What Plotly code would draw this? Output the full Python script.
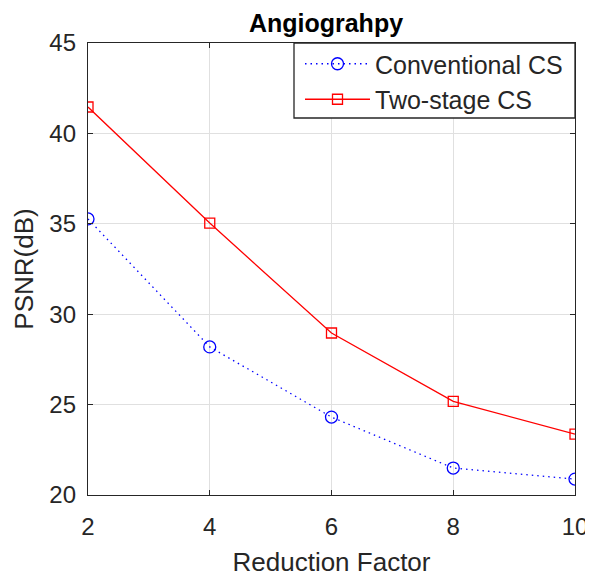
import plotly.graph_objects as go

reduction = [2, 4, 6, 8, 10]
conventional = [35.27, 28.19, 24.31, 21.49, 20.88]
two_stage = [41.46, 35.04, 28.96, 25.18, 23.37]
x_ticks = [2, 4, 6, 8, 10]
y_ticks = [20, 25, 30, 35, 40, 45]

FONT = "Liberation Sans, Arial, Helvetica, sans-serif"

# page body has an 8px default margin; figure sized/offset to compensate
W, H = 585, 569
L, T, PW, PH = 80, 35, 487, 452

fig = go.Figure()
fig.add_trace(go.Scatter(
    x=reduction, y=conventional, name="Conventional CS", mode="lines+markers",
    line=dict(color="#0000ff", width=1.3, dash="1.5px,4px"),
    marker=dict(symbol="circle-open", size=12, color="#0000ff", line=dict(width=1.3)),
))
fig.add_trace(go.Scatter(
    x=reduction, y=two_stage, name="Two-stage CS", mode="lines+markers",
    line=dict(color="#ff0000", width=1.3),
    marker=dict(symbol="square-open", size=10, color="#ff0000", line=dict(width=1.3)),
))

axis_common = dict(
    showgrid=True, gridcolor="#e0e0e0", gridwidth=1,
    showline=True, linecolor="#262626", linewidth=1.3, mirror="allticks",
    ticks="inside", ticklen=5, tickcolor="#262626",
    tickfont=dict(size=24, color="#262626", family=FONT),
    zeroline=False, automargin=False, ticklabeloverflow="allow",
)

fig.update_xaxes(range=[2, 10], tickvals=x_ticks, ticklabelstandoff=10,
                 title=dict(text="Reduction Factor", font=dict(size=26, color="#262626", family=FONT), standoff=20),
                 **axis_common)
fig.update_yaxes(range=[20, 45], tickvals=y_ticks, ticklabelstandoff=6,
                 title=dict(text="PSNR(dB)", font=dict(size=26, color="#262626", family=FONT), standoff=8),
                 **axis_common)

# legend frame (white box over the grid)
fig.add_shape(type="rect", xref="paper", yref="paper",
              x0=(294 - 88) / PW, x1=1.0, y0=(495 - 118) / PH, y1=1.0,
              line=dict(color="#262626", width=1.3), fillcolor="white", layer="above")

fig.update_layout(
    width=W, height=H,
    margin=dict(l=L, r=W - L - PW, t=T, b=H - T - PH),
    paper_bgcolor="white", plot_bgcolor="white",
    font=dict(family=FONT, color="#262626"),
    title=dict(text="<b>Angiograhpy</b>", x=(326 - 8) / W, xanchor="center", y=1 - 15 / H, yanchor="middle",
               font=dict(size=25, color="black", family=FONT)),
    legend=dict(x=(300 - 88) / PW, y=1 + 2 / PH, xanchor="left", yanchor="top",
                borderwidth=0, bgcolor="rgba(0,0,0,0)",
                font=dict(size=25, color="#262626", family=FONT), itemwidth=65,
                tracegroupgap=0),
    showlegend=True,
)

fig.write_html("out.html")
